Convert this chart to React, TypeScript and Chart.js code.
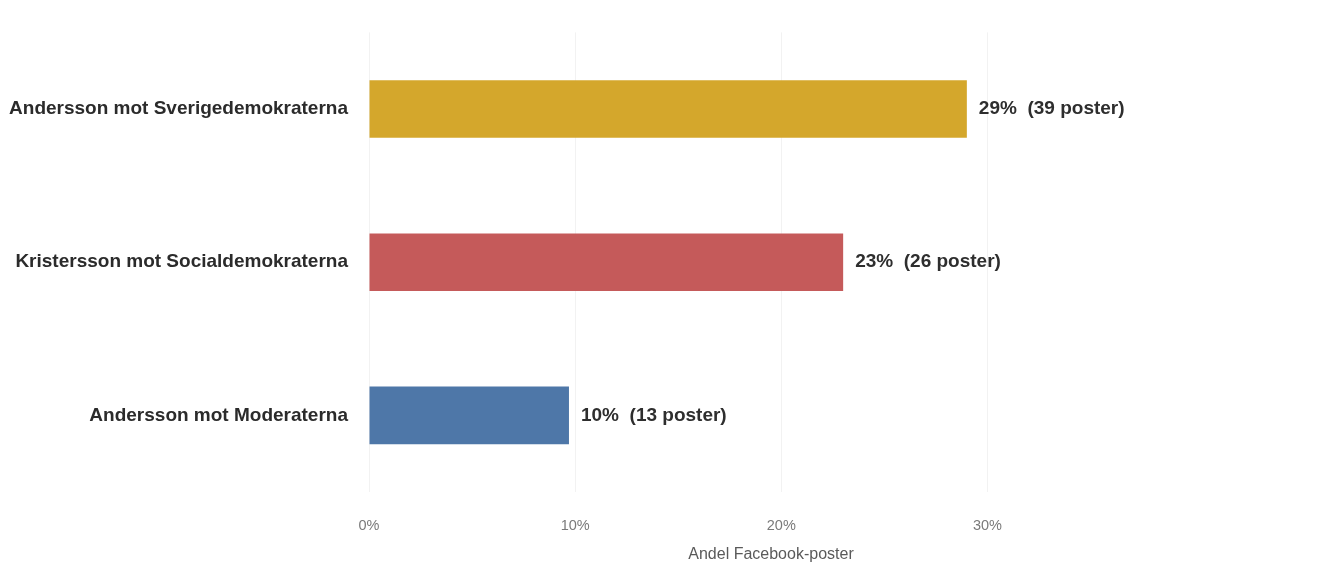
import { useEffect, useRef } from "react"
import { Chart, registerables } from "chart.js"

Chart.register(...registerables)

const categories = [
  "Andersson mot Sverigedemokraterna",
  "Kristersson mot Socialdemokraterna",
  "Andersson mot Moderaterna",
]
const shares = [29.0, 23.0, 9.7]
const postCounts = [39, 26, 13]
const shareLabels = ["29%", "23%", "10%"]
const barColors = ["#D4A72C", "#C55A5A", "#4E77A8"]
const xTicks = [0, 10, 20, 30]

const FONT = "'Liberation Sans', Arial, sans-serif"

// draws "29%  (39 poster)" just right of each bar
const valueLabels = {
  id: "valueLabels",
  afterDatasetsDraw(chart: Chart) {
    const { ctx } = chart
    const meta = chart.getDatasetMeta(0)
    ctx.save()
    ctx.font = `bold 19px ${FONT}`
    ctx.fillStyle = "#2e2e2e"
    ctx.textAlign = "left"
    ctx.textBaseline = "middle"
    meta.data.forEach((bar: any, i: number) => {
      ctx.fillText(`${shareLabels[i]}  (${postCounts[i]} poster)`, bar.x + 12, bar.y)
    })
    ctx.restore()
  },
}

export default function App() {
  const chartRef = useRef<HTMLCanvasElement>(null)
  const chartInstance = useRef<Chart | null>(null)

  useEffect(() => {
    if (!chartRef.current) return
    if (chartInstance.current) chartInstance.current.destroy()

    const ctx = chartRef.current.getContext("2d")
    if (!ctx) return

    chartInstance.current = new Chart(ctx, {
      type: "bar",
      data: {
        labels: categories,
        datasets: [
          {
            data: shares,
            backgroundColor: barColors,
            borderWidth: 0,
            barPercentage: 0.376,
            categoryPercentage: 1,
          },
        ],
      },
      options: {
        indexAxis: "y",
        animation: false,
        responsive: true,
        maintainAspectRatio: false,
        layout: { padding: { top: 30, right: 169, bottom: 0, left: 0 } },
        plugins: {
          legend: { display: false },
          tooltip: { enabled: false },
        },
        scales: {
          x: {
            min: 0,
            max: 39,
            afterBuildTicks: (scale: any) => {
              scale.ticks = xTicks.map((v) => ({ value: v }))
            },
            afterFit: (scale: any) => {
              scale.height = 86
            },
            border: { display: false },
            grid: { color: "#f2f2f2", lineWidth: 1, drawTicks: false },
            ticks: {
              padding: 25,
              color: "#7a7a7a",
              font: { family: FONT, size: 14.5 },
              callback: (v: any) => `${v}%`,
            },
            title: {
              display: true,
              text: "Andel Facebook-poster",
              color: "#5a5a5a",
              font: { family: FONT, size: 16 },
              padding: { top: 4, bottom: 14 },
            },
          },
          y: {
            afterFit: (scale: any) => {
              scale.width = 369
            },
            border: { display: false },
            grid: { display: false, drawTicks: false },
            ticks: {
              padding: 21,
              color: "#2b2b2b",
              font: { family: FONT, size: 19, weight: "bold" },
            },
          },
        },
      },
      plugins: [valueLabels],
    })

    return () => {
      if (chartInstance.current) {
        chartInstance.current.destroy()
        chartInstance.current = null
      }
    }
  }, [])

  return (
    <div style={{ position: "fixed", left: 0, top: 0, width: 1342, height: 578, background: "#fff" }}>
      <canvas ref={chartRef} />
    </div>
  )
}
